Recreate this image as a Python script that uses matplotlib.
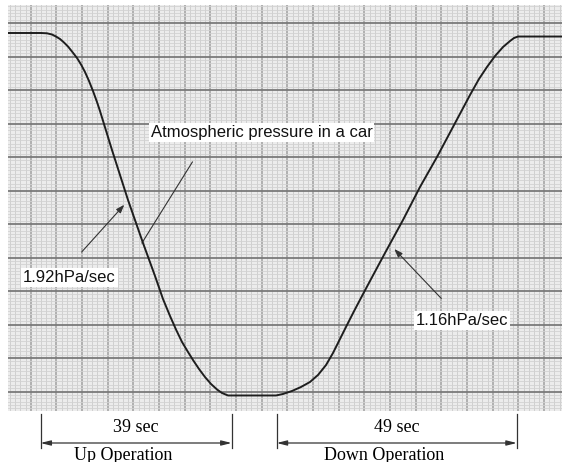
import matplotlib
matplotlib.use("Agg")
import matplotlib.pyplot as plt
import matplotlib.transforms as mtransforms
from matplotlib.ticker import MultipleLocator, NullFormatter

plt.rcParams['font.family'] = ['Liberation Sans', 'DejaVu Sans']

# pressure trace (time in sec, pressure change in hPa)
t_sec = [-8, 0.10, 1.33, 2.35, 3.16, 3.98, 4.80, 5.61, 6.43, 7.45, 8.27, 9.08,
         9.90, 10.71, 11.53, 12.14, 14.59, 17.86, 20.92, 23.37, 25.0, 26.43,
         27.65, 28.88, 30.1, 31.12, 32.35, 33.57, 34.8, 36.02, 37.04, 38.27,
         48.06, 49.49, 51.33, 53.16, 55.0, 56.63, 58.27, 59.69, 61.12, 62.55,
         64.0, 65.61, 67.24, 68.88, 70.31, 73.98, 77.45, 80.92, 84.18, 87.65,
         89.49, 91.12, 92.76, 94.39, 95.82, 96.63, 97.45, 108]
dp_hpa = [0, 0, -0.04, -0.2, -0.47, -0.8, -1.27, -1.8, -2.47, -3.33, -4.2, -5.2,
          -6.4, -7.73, -9.2, -10.4, -15.6, -22.27, -28.0, -32.4, -35.47, -37.73,
          -39.53, -41.2, -42.53, -43.6, -44.8, -45.87, -46.8, -47.53, -48.0, -48.33,
          -48.33, -48.13, -47.73, -47.2, -46.53, -45.6, -44.27, -42.67, -40.8, -38.93,
          -37.07, -35.07, -33.07, -31.07, -29.33, -24.93, -20.53, -16.53, -12.53, -8.27,
          -6.13, -4.53, -3.07, -1.87, -1.07, -0.67, -0.47, -0.47]

# operations: (start sec, duration sec, label)
up_start, up_dur, up_label = 0.0, 39, "Up Operation"
down_start, down_dur, down_label = 48.2, 49, "Down Operation"

# slope notes: (text, text pos, arrow tail, arrow tip)
rate_up = ("1.92hPa/sec", (5.9, -32.6), (8.4, -29.2), (17.1, -22.9))
rate_down = ("1.16hPa/sec", (86.0, -38.4), (81.8, -35.4), (72.2, -28.8))
trace_label = ("Atmospheric pressure in a car", (45.1, -13.25), (31.0, -17.2), (20.7, -28.0))

fig = plt.figure(figsize=(5.62, 4.62), dpi=100)
ax = fig.add_axes([8 / 562, 51 / 462, 554 / 562, 406 / 462])
ax.set_facecolor('#ececec')

xmin = -32.5 / 4.9
ax.set_xlim(xmin, xmin + 554 / 4.9)
ax.set_ylim(-378 / 7.5, 28 / 7.5)

# chart paper grid
xbase = 25.67 / 4.9
ybase = 33.5 / 7.5
ax.xaxis.set_major_locator(MultipleLocator(xbase, offset=-2.0))
ax.xaxis.set_minor_locator(MultipleLocator(xbase / 5, offset=-2.0))
ax.yaxis.set_major_locator(MultipleLocator(ybase, offset=1.33))
ax.yaxis.set_minor_locator(MultipleLocator(ybase / 10, offset=1.33))
ax.grid(which='minor', axis='y', color='#d2d2d2', lw=0.6)
ax.grid(which='minor', axis='x', color='#d0d0d0', lw=0.7)
ax.grid(which='major', axis='x', color='#a0a0a0', lw=1.1)
ax.grid(which='major', axis='y', color='#7a7a7a', lw=1.3)
ax.tick_params(which='both', length=0)
ax.xaxis.set_major_formatter(NullFormatter())
ax.yaxis.set_major_formatter(NullFormatter())
for s in ax.spines.values():
    s.set_visible(False)

ax.plot(t_sec, dp_hpa, color='#1e1e1e', lw=1.4, zorder=3, solid_joinstyle='round')

box = dict(boxstyle='square,pad=0.12', fc='white', ec='none')
for txt, pos, tail, tip in [rate_up, rate_down]:
    ax.annotate('', xy=tip, xytext=tail,
                arrowprops=dict(arrowstyle='-|>,head_length=0.5,head_width=0.18',
                                color='#333333', lw=0.8, shrinkA=0, shrinkB=0))
    ax.text(pos[0], pos[1], txt, fontsize=12, ha='center', va='center',
            color='#111111', bbox=box, zorder=4)

txt, pos, tail, tip = trace_label
ax.plot([tail[0], tip[0]], [tail[1], tip[1]], color='#333333', lw=0.8)
ax.text(pos[0], pos[1], txt, fontsize=12, ha='center', va='center',
        color='#111111', bbox=box, zorder=4)

# duration marks under the chart
trans = mtransforms.blended_transform_factory(ax.transData, fig.transFigure)
for start, dur, label in [(up_start, up_dur, up_label), (down_start, down_dur, down_label)]:
    end = start + dur
    for x in (start, end):
        ax.plot([x, x], [1 - 414 / 462, 1 - 448 / 462], color='#333333', lw=0.9,
                transform=trans, clip_on=False)
    ax.annotate('', xy=(start, 1 - 443 / 462), xytext=(end, 1 - 443 / 462),
                xycoords=trans, textcoords=trans,
                arrowprops=dict(arrowstyle='<|-|>,head_length=0.6,head_width=0.15',
                                color='#333333', lw=0.9, shrinkA=0, shrinkB=0))
    ax.text(start + dur / 2, 1 - 427 / 462, f"{dur} sec", transform=trans,
            ha='center', va='center', fontsize=13, family='Liberation Serif')
    ax.text(start + dur / 2 - 2.6, 1 - 455 / 462, label, transform=trans,
            ha='center', va='center', fontsize=13, family='Liberation Serif')

fig.savefig('out.png', dpi=100, facecolor='white')
